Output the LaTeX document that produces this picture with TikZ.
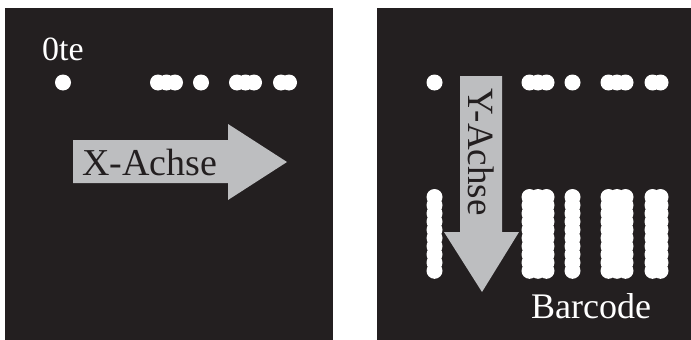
\documentclass[tikz,border=0pt]{standalone}
\usepackage{fontspec}
\setmainfont{Liberation Serif}
\definecolor{panel}{HTML}{231F20}
\definecolor{arrowgrey}{HTML}{BDBEC0}
\tikzset{
  panelbox/.style={fill=panel},
  dotmark/.style={fill=white},
  bigarrow/.style={fill=arrowgrey},
  whitelabel/.style={text=white, inner sep=0pt, font=\fontsize{34}{36}\selectfont},
  greylabel/.style={text=panel, inner sep=0pt, font=\fontsize{38}{40}\selectfont}
}
\begin{document}
\begin{tikzpicture}[x=1pt,y=-1pt]
\useasboundingbox[fill=white] (0,0) rectangle (691,340);
% panels
\fill[panelbox] (5,8) rectangle (333,340);
\fill[panelbox] (377,8) rectangle (691,340);
% left panel dot row
\foreach \cx in {63,158,166.5,175,201,237,245.5,254,281,289}
  \fill[dotmark] (\cx,82.5) circle (8);
\node[whitelabel, anchor=base west] (null) at (42,60) {0te};
% X arrow
\fill[bigarrow] (73,140) -- (228,140) -- (228,124) -- (287,162) -- (228,200) -- (228,183) -- (73,183) -- cycle;
\node[greylabel, anchor=base west] (xachse) at (82,175) {X-Achse};
% right panel dot row
\foreach \cx in {63,158,166.5,175,201,237,245.5,254,281,289}
  \fill[dotmark] (\cx+371.5,82.5) circle (8);
% barcode bars
\foreach \cx in {63,158,166.5,175,201,237,245.5,254,281,289}
  \foreach \k in {0,...,9}
    \fill[dotmark] (\cx+371.5,197+8.2*\k) circle (8);
% Y arrow
\fill[bigarrow] (460,76) -- (502,76) -- (502,232) -- (519,232) -- (482,292) -- (444,232) -- (460,232) -- cycle;
\node[greylabel, font=\fontsize{37}{39}\selectfont, anchor=base west, rotate=-90] (yachse) at (468,88) {Y-Achse};
\node[whitelabel, font=\fontsize{36}{38}\selectfont, anchor=base west] (barcode) at (531,318) {Barcode};
\end{tikzpicture}
\end{document}
